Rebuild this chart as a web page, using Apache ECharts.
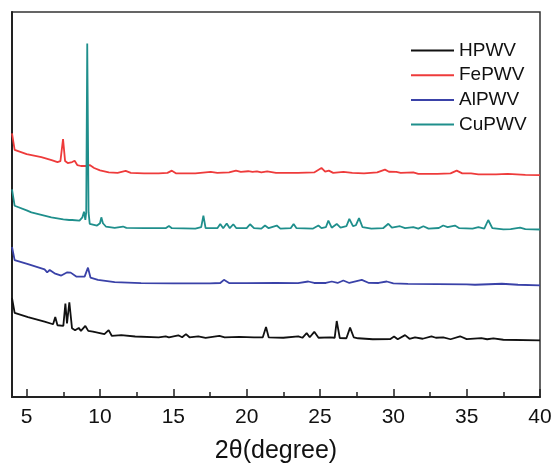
<!DOCTYPE html>
<html>
<head>
<meta charset="utf-8">
<script src="https://cdn.jsdelivr.net/npm/echarts@6/dist/echarts.min.js"></script>
<style>html,body{margin:0;padding:0;background:#fff}#c{width:555px;height:469px}</style>
</head>
<body>
<div id="c"></div>
<script>
// 2θ positions and offset intensities (arbitrary units)
const seriesNames = ['HPWV', 'FePWV', 'AlPWV', 'CuPWV'];
const xTickLabels = [5, 10, 15, 20, 25, 30, 35, 40];
const xMinorTicks = [7.5, 12.5, 17.5, 22.5, 27.5, 32.5, 37.5];

const hpwvX = [4.0,4.18,5.09,6.22,6.8,6.95,7.1,7.5,7.64,7.75,7.91,8.09,8.3,8.55,8.7,9.0,9.2,9.52,10.3,10.59,10.8,11.45,12.4,14.0,14.48,14.7,15.34,15.6,15.86,16.1,16.7,17.2,18.14,18.5,19.5,20.5,21.1,21.32,21.5,22.5,23.52,23.8,24.09,24.3,24.61,24.9,25.68,26.0,26.14,26.35,26.8,27.05,27.3,27.6,28.6,29.8,30.05,30.3,30.8,31.1,31.48,32.0,32.6,32.9,33.4,33.9,34.55,35.0,36.0,36.4,36.82,37.5,40.0];
const hpwvY = [100.3,85.3,81,76.3,73.7,81,72.7,72,94.7,74.5,96,69.7,67.7,70,67,72,67,66.3,63.7,67.7,62,62.7,61.3,60.5,61.5,60.5,62.5,60.5,63.7,60.5,61.5,60,62,60.5,61,60.5,60.5,71,60.5,60,61.5,60,64.7,60.5,66,60,60.5,60,77,59.7,59.5,70.3,60.5,59.5,58.5,58.7,61.3,58.5,62.7,59,60.5,59,61.5,60,60.5,58.5,61.5,58.7,59.7,58.5,59.3,58,57.3];

const fepwvX = [4.0,4.18,5.0,6.0,6.7,7.1,7.3,7.48,7.62,7.8,8.1,8.27,8.45,8.7,9.0,9.3,9.6,10.0,10.6,11.2,11.75,12.1,13.0,14.0,14.6,14.9,15.2,16.5,17.55,18.0,18.8,19.27,19.6,20.1,20.4,20.7,21.0,21.4,22.0,23.5,24.6,25.1,25.35,25.6,25.9,26.6,27.2,28.0,28.9,29.43,29.7,30.2,30.5,31.36,31.7,33.0,33.9,34.32,34.7,35.3,35.8,37.0,37.8,39.0,40.0];
const fepwvY = [267,250.3,246,243,240,238,239,261.3,239,237,238,239.3,235,234,234,235,232,229.5,227.5,227,229,227,226.5,226.5,227,229.3,226.5,226.5,228,227,227.5,229.3,228,228.7,228,228.5,227.5,228.5,227,227,227.5,232,228.3,229.3,227,228,227,226.5,227.5,230.3,228.2,228,227,227.5,226,226,226.5,229.3,226.5,226.5,225.5,225.5,226,225,224.7];

const alpwvX = [4.0,4.18,5.09,6.22,6.4,6.57,6.9,7.36,7.77,8.0,8.38,8.95,9.18,9.35,9.86,11.0,12.8,15.0,17.5,18.2,18.45,18.8,20.0,22.0,23.5,24.2,24.6,25.4,25.8,26.2,26.59,27.0,27.85,28.3,29.0,29.55,30.0,31.0,33.0,35.0,35.57,36.5,37.4,38.5,40.0];
const alpwvY = [152,138.7,134.7,129.3,126.3,128.7,125.3,123,126.3,126,122,122,131,121,118.7,116.3,115.3,115,115.2,115.5,118.7,115.5,115.3,115.5,115.3,117,115.5,115.5,117,115.5,118,115.5,118.7,115.7,115.5,117,115,114.5,114.3,114,113.7,114.2,114.7,113.7,113];

const cupwvX = [4.0,4.18,5.0,5.32,6.0,6.68,7.5,7.9,8.0,8.1,8.6,8.8,8.91,9.0,9.06,9.13,9.22,9.3,9.8,10.0,10.09,10.2,10.4,11.0,11.57,11.8,13.0,14.5,14.7,14.9,16.5,16.9,17.05,17.2,18.0,18.2,18.4,18.64,18.85,19.09,19.3,20.0,20.23,20.5,21.0,21.25,21.5,22.05,22.3,23.0,23.2,23.4,24.5,24.89,25.1,25.4,25.57,25.8,26.14,26.4,26.8,27.0,27.25,27.45,27.66,27.9,28.5,29.3,29.66,29.9,30.45,30.8,31.36,31.7,32.05,32.4,33.1,33.4,33.7,34.2,34.5,35.4,35.8,36.2,36.47,36.75,37.5,38.0,38.64,39.0,40.0];
const cupwvY = [210.3,193.7,189,187,184.5,182,180,179.3,180.5,179.3,178.7,182,187.7,179.5,187,358,187,175.3,173.7,176,182,176,172.7,171.3,172.7,171.3,171,171.2,173.3,171,170.5,172,183.7,171,171,175.3,171,175.7,171,175,171,171,175,171,170.5,173.7,171,173.7,170.5,171,175.3,171,170.5,173.7,171,172,178.7,171.5,175.3,171.5,173,180.5,173,174,181.2,172,170.5,171,175.5,171.5,173,171,172,170.5,173,170.5,171.2,173.7,172,173.7,171,170.5,172,170.5,179.3,171,169.7,170,171.5,170,169.7];

const colors = ['#111111', '#ee3b3b', '#3a42a8', '#1f8f8c'];
const xs = [hpwvX, fepwvX, alpwvX, cupwvX];
const ys = [hpwvY, fepwvY, alpwvY, cupwvY];

const pair = (a, b) => a.map((v, i) => [v, b[i]]);
const font = 'Liberation Sans, Arial, sans-serif';

const chart = echarts.init(document.getElementById('c'));
chart.setOption({
  animation: false,
  backgroundColor: '#fff',
  grid: { left: 12, right: 15, top: 12, bottom: 67, show: true, borderColor: '#333', borderWidth: 1.5, containLabel: false },
  legend: {
    orient: 'vertical', left: 406, top: 36,
    icon: 'rect', itemWidth: 43, itemHeight: 2, itemGap: 5.7,
    data: seriesNames,
    textStyle: { fontFamily: font, fontSize: 19, color: '#111', lineHeight: 18 }
  },
  xAxis: [{
    type: 'value', min: 4, max: 40,
    name: '2θ(degree)', nameLocation: 'middle', nameGap: 42,
    nameTextStyle: { fontFamily: font, fontSize: 25, color: '#111' },
    axisLine: { show: true, onZero: false, lineStyle: { color: '#222', width: 2 } },
    axisTick: { show: true, inside: true, length: 8, customValues: xTickLabels, lineStyle: { color: '#222', width: 1.5 } },
    axisLabel: { show: true, margin: 10, customValues: xTickLabels, fontFamily: font, fontSize: 21, color: '#111' },
    splitLine: { show: false }
  }, {
    type: 'value', min: 4, max: 40, position: 'bottom',
    axisLine: { show: false },
    axisTick: { show: true, inside: true, length: 5, customValues: xMinorTicks, lineStyle: { color: '#222', width: 1.5 } },
    axisLabel: { show: false },
    splitLine: { show: false }
  }],
  yAxis: {
    type: 'value', min: 0, max: 390,
    axisLine: { show: true, lineStyle: { color: '#222', width: 2 } },
    axisTick: { show: false }, axisLabel: { show: false }, splitLine: { show: false }
  },
  series: seriesNames.map((n, i) => ({
    name: n, type: 'line', xAxisIndex: 0, yAxisIndex: 0,
    data: pair(xs[i], ys[i]),
    symbol: 'none', showSymbol: false,
    lineStyle: { color: colors[i], width: 1.8 },
    itemStyle: { color: colors[i] },
    z: i === 3 ? 3 : 2
  }))
});
</script>
</body>
</html>
